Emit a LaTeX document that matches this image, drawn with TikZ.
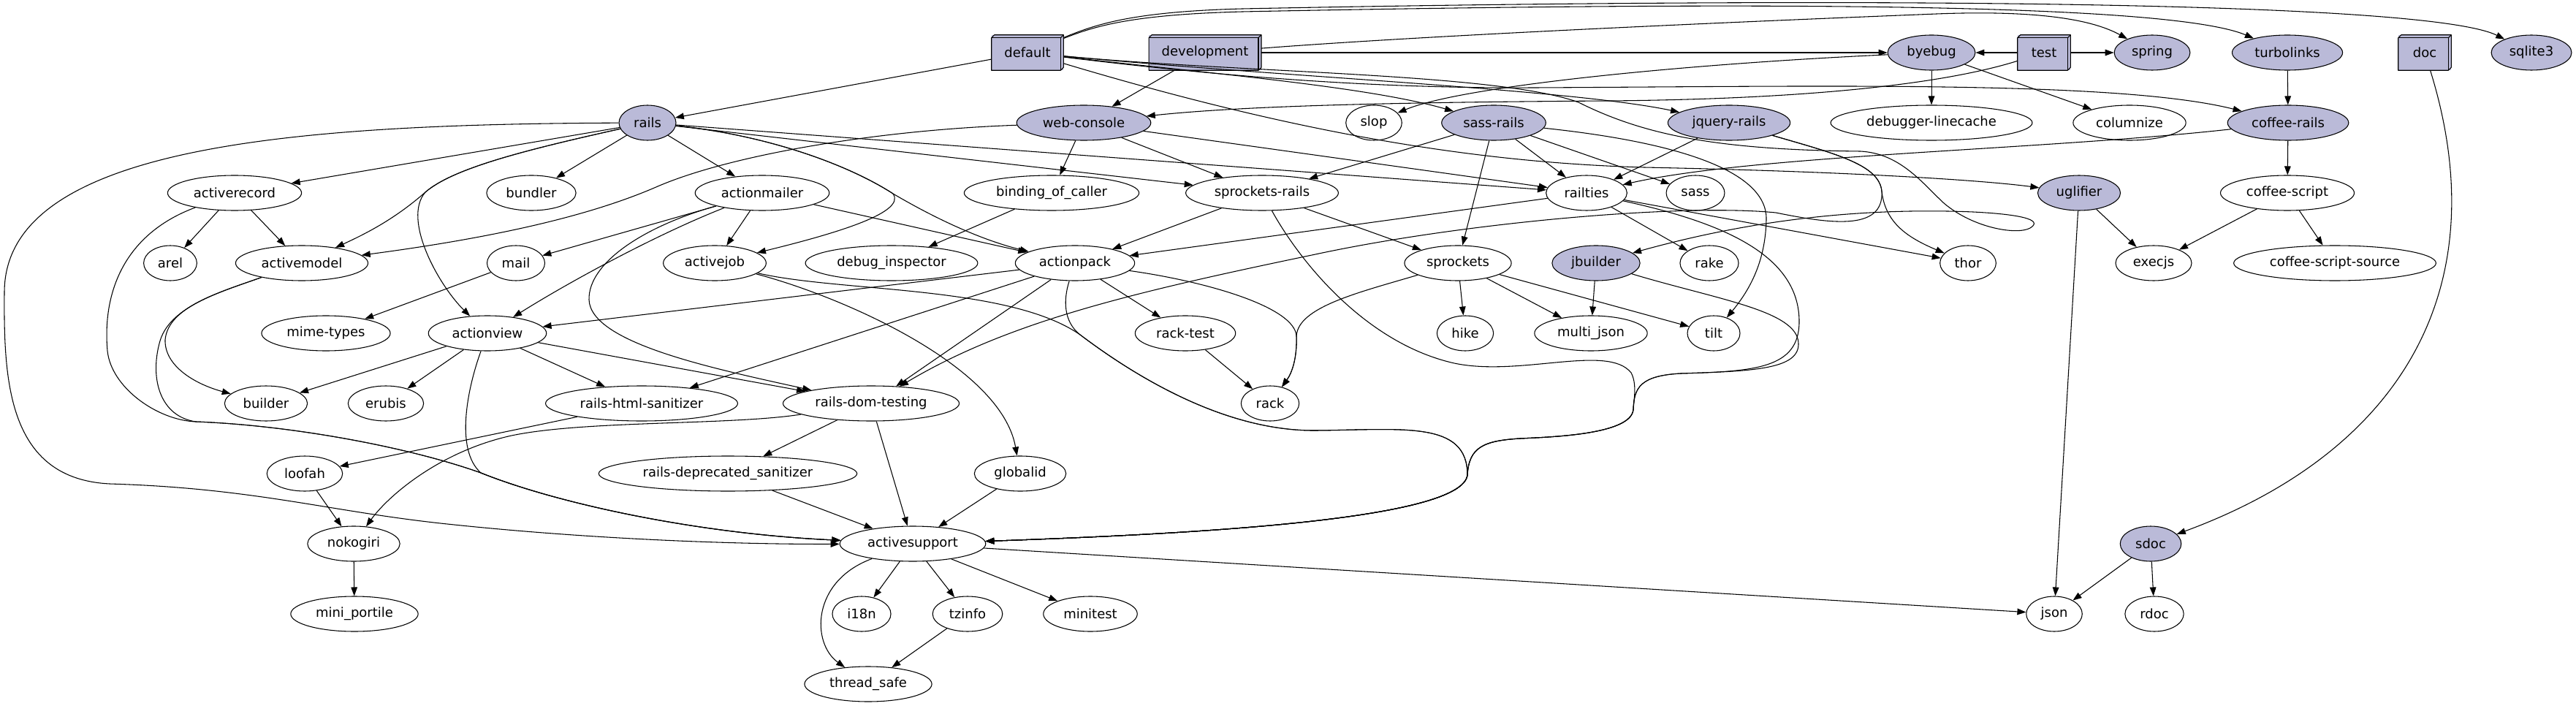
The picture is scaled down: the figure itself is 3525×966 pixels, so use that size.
\documentclass[tikz,border=0pt]{standalone}
\usepackage{fontspec}
\setmainfont{DejaVu Sans}
\usetikzlibrary{shapes.geometric,arrows.meta}
\definecolor{gemfill}{RGB}{186,186,216}
\tikzset{
  gem/.style={ellipse, draw, line width=0.8pt, fill=white, minimum width=54pt,
    minimum height=36pt, inner xsep=6.5pt, inner ysep=2pt,
    font=\fontsize{13.5}{15}\selectfont},
  topgem/.style={gem, fill=gemfill},
  grp/.style={rectangle, fill=gemfill, minimum width=54pt, minimum height=36pt,
    inner xsep=13pt, font=\fontsize{13.5}{15}\selectfont},
  face/.style={line width=0.8pt, line join=round},
  dep/.style={line width=0.8pt, -{Triangle[length=9pt,width=6.5pt]}},
}
\begin{document}
\begin{tikzpicture}[x=0.75pt, y=-0.75pt]
  \fill[white, use as bounding box] (0,0) rectangle (3525,966);
  % groups of the Gemfile, drawn as 3d boxes
  \foreach \n/\x in {default/1406, development/1649, test/2797, doc/3318}
    \node[grp] (\n) at (\x,72) {\n};
  \foreach \g in {default, development, test, doc} {
    \draw[face] ([yshift=-3pt]\g.north west) -- ([xshift=3pt]\g.north west)
      -- (\g.north east) -- ([yshift=3pt]\g.south east)
      -- ([xshift=-3pt]\g.south east) -- (\g.south west) -- cycle;
    \draw[face] ([yshift=-3pt]\g.north west) -- ([shift={(-3pt,-3pt)}]\g.north east)
      -- ([xshift=-3pt]\g.south east);
    \draw[face] ([shift={(-3pt,-3pt)}]\g.north east) -- (\g.north east);
  }
  % gems named in the Gemfile
  \foreach \n/\x/\y/\t in {
    byebug/2643/72/byebug, spring/2945/72/spring, turbolinks/3130/72/turbolinks,
    sqlite3/3464/72/sqlite3, rails/886/168/rails, webconsole/1483/168/web-console,
    sassrails/2044/168/sass-rails, jqueryrails/2366/168/jquery-rails,
    coffeerails/3131/168/coffee-rails, uglifier/2845/264/uglifier,
    jbuilder/2184/360/jbuilder, sdoc/2943/744/sdoc}
    \node[topgem] (\n) at (\x,\y) {\t};
  % their dependencies
  \foreach \n/\x/\y/\t in {
    slop/1880/168/slop, linecache/2643/168/debugger-linecache,
    columnize/2914/168/columnize,
    activerecord/321/264/activerecord, bundler/727/264/bundler,
    actionmailer/1043/264/actionmailer, bindingofcaller/1439/264/binding\_of\_caller,
    sprocketsrails/1727/264/sprockets-rails, railties/2171/264/railties,
    sass/2320/264/sass, coffeescript/3130/264/coffee-script,
    arel/233/360/arel, activemodel/413/360/activemodel, mail/706/360/mail,
    activejob/978/360/activejob, debuginspector/1220/360/debug\_inspector,
    actionpack/1471/360/actionpack, sprockets/1995/360/sprockets,
    rake/2339/360/rake, thor/2693/360/thor, execjs/2947/360/execjs,
    cssource/3195/360/coffee-script-source,
    mimetypes/446/456/mime-types, actionview/667/456/actionview,
    racktest/1622/456/rack-test, hike/2005/456/hike,
    multijson/2177/456/multi\_json, tilt/2345/456/tilt,
    builder/364/552/builder, erubis/528/552/erubis,
    htmlsanitizer/878/552/rails-html-sanitizer,
    domtesting/1192/552/rails-dom-testing, rack/1738/552/rack,
    loofah/417/648/loofah,
    deprecatedsanitizer/996/648/rails-deprecated\_sanitizer,
    globalid/1396/648/globalid,
    nokogiri/484/744/nokogiri, activesupport/1249/744/activesupport,
    miniportile/485/840/mini\_portile, i18n/1179/840/i18n,
    tzinfo/1324/840/tzinfo, minitest/1492/840/minitest,
    json/2811/840/json, rdoc/2948/840/rdoc,
    threadsafe/1188/936/thread\_safe}
    \node[gem] (\n) at (\x,\y) {\t};

  % straight dependencies
  \foreach \a/\b in {default/rails, development/webconsole, development/byebug,
    test/byebug, test/spring, rails/activerecord, rails/bundler,
    rails/actionmailer, rails/sprocketsrails, rails/railties,
    webconsole/bindingofcaller, webconsole/sprocketsrails, webconsole/railties,
    sassrails/sprocketsrails, sassrails/railties, sassrails/sass,
    sassrails/sprockets, jqueryrails/railties, byebug/linecache,
    byebug/columnize, turbolinks/coffeerails, coffeerails/coffeescript,
    activerecord/arel, activerecord/activemodel, actionmailer/mail,
    actionmailer/activejob, actionmailer/actionpack,
    bindingofcaller/debuginspector, sprocketsrails/actionpack,
    sprocketsrails/sprockets, railties/actionpack, railties/rake,
    railties/thor, uglifier/execjs, uglifier/json, coffeescript/execjs,
    coffeescript/cssource, mail/mimetypes, actionpack/actionview,
    actionpack/racktest, actionpack/htmlsanitizer, actionpack/domtesting,
    sprockets/hike, sprockets/multijson, sprockets/tilt, jbuilder/multijson,
    actionview/builder, actionview/erubis, actionview/htmlsanitizer,
    actionview/domtesting, racktest/rack, htmlsanitizer/loofah,
    domtesting/deprecatedsanitizer, domtesting/activesupport, loofah/nokogiri,
    deprecatedsanitizer/activesupport, globalid/activesupport,
    nokogiri/miniportile, activesupport/i18n, activesupport/tzinfo,
    activesupport/minitest, activesupport/json, tzinfo/threadsafe,
    sdoc/json, sdoc/rdoc}
    \draw[dep] (\a) -- (\b);

  % routed dependencies: top of the picture
  \draw[dep] (default) .. controls (1500,35) and (1550,20) .. (1700,16)
    .. controls (2300,4) and (2960,0) .. (turbolinks);
  \draw[dep] (default) .. controls (1500,33) and (1550,16) .. (1700,12)
    .. controls (2500,-4) and (3320,0) .. (sqlite3);
  \draw[dep] (development) .. controls (2000,45) and (2500,25) .. (2650,19)
    .. controls (2780,14) and (2860,25) .. (spring);
  \draw[dep] (default) .. controls (1650,100) and (1870,118) .. (sassrails);
  \draw[dep] (default) .. controls (1750,105) and (2150,122) .. (jqueryrails);
  \draw[dep] (default) .. controls (1700,108) and (1900,121) .. (2100,120)
    .. controls (2500,118) and (2900,110) .. (coffeerails);
  \draw[dep] (default) .. controls (1750,175) and (2000,222) .. (2250,229)
    .. controls (2500,234) and (2700,245) .. (uglifier);
  \draw[dep] (default) .. controls (1700,100) and (2050,100) .. (2160,140)
    .. controls (2250,185) and (2350,205) .. (2546,207)
    .. controls (2600,210) and (2630,250) .. (2660,278)
    .. controls (2700,312) and (2760,322) .. (2778,312)
    .. controls (2798,300) and (2760,293) .. (2700,290)
    .. controls (2550,284) and (2400,300) .. (jbuilder);
  \draw[dep] (test) .. controls (2650,118) and (2450,136) .. (2200,138)
    .. controls (1900,140) and (1700,145) .. (webconsole);
  \draw[dep] (byebug) .. controls (2300,88) and (2000,118) .. (slop);
  \draw[dep] (coffeerails) .. controls (2800,205) and (2400,212) .. (railties);
  \draw[dep] (doc) .. controls (3420,400) and (3280,620) .. (sdoc);

  % routed dependencies: rails and friends
  \draw[dep] (rails) .. controls (720,205) and (620,230) .. (582,263)
    .. controls (540,300) and (500,320) .. (activemodel);
  \draw[dep] (rails) .. controls (720,205) and (620,230) .. (582,263)
    .. controls (550,300) and (600,390) .. (actionview);
  \draw[dep] (rails) .. controls (400,170) and (6,200) .. (6,400)
    .. controls (5,520) and (10,655) .. (150,662)
    .. controls (350,668) and (450,700) .. (612,717)
    .. controls (800,737) and (1000,745) .. (activesupport);
  \draw[dep] (rails) .. controls (1050,185) and (1160,225) .. (1222,265)
    .. controls (1290,305) and (1350,330) .. (actionpack);
  \draw[dep] (rails) .. controls (1050,185) and (1160,225) .. (1222,265)
    .. controls (1240,290) and (1150,318) .. (activejob);
  \draw[dep] (webconsole) .. controls (1200,178) and (1000,212) .. (900,255)
    .. controls (820,290) and (700,322) .. (activemodel);
  \draw[dep] (sassrails) .. controls (2300,195) and (2418,235) .. (2417,300)
    .. controls (2416,350) and (2400,390) .. (tilt);
  \draw[dep] (jqueryrails) .. controls (2510,210) and (2572,225) .. (2575,262)
    .. controls (2580,305) and (2610,325) .. (thor);
  \draw[dep] (jqueryrails) .. controls (2510,210) and (2572,225) .. (2575,262)
    .. controls (2578,318) and (2500,305) .. (2430,291)
    .. controls (2300,278) and (2000,305) .. (1800,348)
    .. controls (1550,400) and (1380,440) .. (domtesting);
  \draw[dep] (actionmailer) .. controls (900,320) and (780,385) .. (actionview);
  \draw[dep] (actionmailer) .. controls (880,310) and (805,360) .. (806,410)
    .. controls (808,470) and (980,505) .. (domtesting);
  \draw[dep] (activejob) .. controls (1150,405) and (1370,500) .. (globalid);
  \draw[dep] (actionpack) .. controls (1650,385) and (1772,420) .. (1774,460)
    .. controls (1775,490) and (1768,510) .. (rack);
  \draw[dep] (sprockets) .. controls (1860,400) and (1776,420) .. (1774,460)
    .. controls (1775,490) and (1768,510) .. (rack);
  \draw[dep] (domtesting) .. controls (1000,582) and (800,575) .. (700,596)
    .. controls (600,618) and (530,680) .. (nokogiri);

  % routed dependencies into activesupport
  \draw[dep] (activerecord) .. controls (170,320) and (140,400) .. (147,480)
    .. controls (152,530) and (215,575) .. (268,577)
    .. controls (400,582) and (560,612) .. (658,647)
    .. controls (760,688) and (950,730) .. (activesupport);
  \draw[dep] (activemodel) .. controls (300,400) and (230,420) .. (218,470)
    .. controls (205,520) and (220,570) .. (268,577)
    .. controls (400,582) and (560,612) .. (658,647)
    .. controls (760,688) and (950,730) .. (activesupport);
  \draw[dep] (activemodel) .. controls (300,400) and (230,420) .. (226,465)
    .. controls (225,500) and (265,525) .. (builder);
  \draw[dep] (actionview) .. controls (640,530) and (622,615) .. (658,647)
    .. controls (760,688) and (950,730) .. (activesupport);
  \draw[dep] (railties) .. controls (2360,305) and (2462,350) .. (2462,440)
    .. controls (2462,505) and (2400,508) .. (2300,511)
    .. controls (2245,514) and (2236,530) .. (2235,560)
    .. controls (2233,595) and (2120,598) .. (2080,600)
    .. controls (2030,603) and (2010,612) .. (2008,650)
    .. controls (2000,710) and (1650,730) .. (activesupport);
  \draw[dep] (jbuilder) .. controls (2350,410) and (2460,425) .. (2461,470)
    .. controls (2462,505) and (2400,508) .. (2300,511)
    .. controls (2245,514) and (2236,530) .. (2235,560)
    .. controls (2233,595) and (2120,598) .. (2080,600)
    .. controls (2030,603) and (2010,612) .. (2008,650)
    .. controls (2000,710) and (1650,730) .. (activesupport);
  \draw[dep] (sprocketsrails) .. controls (1780,360) and (1870,470) .. (1990,497)
    .. controls (2080,516) and (2200,470) .. (2232,510)
    .. controls (2240,525) and (2236,545) .. (2235,560)
    .. controls (2233,595) and (2120,598) .. (2080,600)
    .. controls (2030,603) and (2010,612) .. (2008,650)
    .. controls (2000,710) and (1650,730) .. (activesupport);
  \draw[dep] (actionpack) .. controls (1455,410) and (1455,440) .. (1478,458)
    .. controls (1560,520) and (1680,590) .. (1800,589)
    .. controls (1920,588) and (2008,575) .. (2008,650)
    .. controls (2000,710) and (1650,730) .. (activesupport);
  \draw[dep] (activejob) .. controls (1150,400) and (1380,390) .. (1478,458)
    .. controls (1560,520) and (1680,590) .. (1800,589)
    .. controls (1920,588) and (2008,575) .. (2008,650)
    .. controls (2000,710) and (1650,730) .. (activesupport);
  \draw[dep] (activesupport) .. controls (1110,795) and (1110,880) .. (threadsafe);
\end{tikzpicture}
\end{document}
